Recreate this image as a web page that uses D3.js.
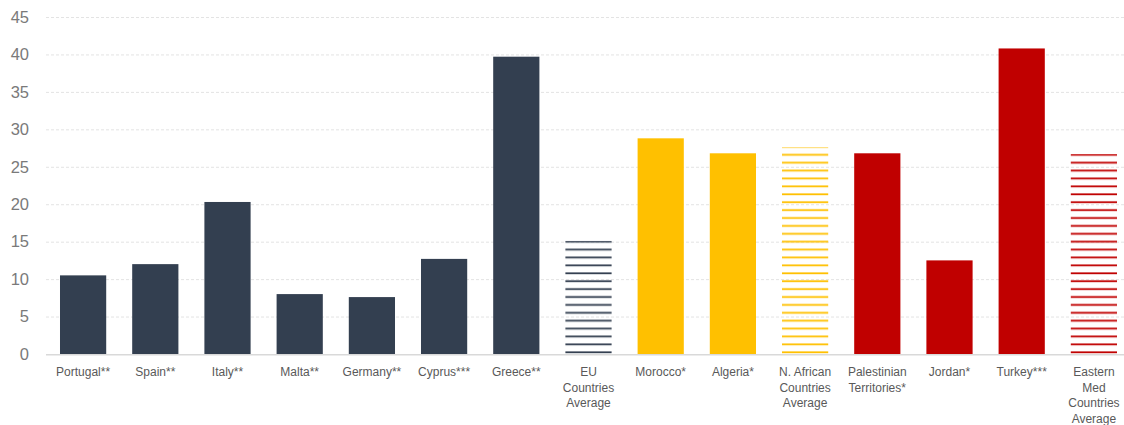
<!DOCTYPE html>
<html><head><meta charset="utf-8">
<script src="https://cdn.jsdelivr.net/npm/d3@7"></script>
<style>body{margin:0;background:#fff}svg{display:block;font-family:"Liberation Sans",Arial,sans-serif}</style>
</head><body><svg id="c" width="1124" height="425"></svg>
<script>
const categories = ["Portugal**","Spain**","Italy**","Malta**","Germany**","Cyprus***","Greece**","EU Countries Average","Morocco*","Algeria*","N. African Countries Average","Palestinian Territories*","Jordan*","Turkey***","Eastern Med Countries Average"];
const labelLines = [["Portugal**"],["Spain**"],["Italy**"],["Malta**"],["Germany**"],["Cyprus***"],["Greece**"],["EU","Countries","Average"],["Morocco*"],["Algeria*"],["N. African","Countries","Average"],["Palestinian","Territories*"],["Jordan*"],["Turkey***"],["Eastern","Med","Countries","Average"]];
const values = [10.5,12.0,20.3,8.0,7.6,12.7,39.7,15.1,28.8,26.8,27.6,26.8,12.5,40.8,26.7];
const groups = ["eu","eu","eu","eu","eu","eu","eu","eu","na","na","na","em","em","em","em"];
const isAverage = [false,false,false,false,false,false,false,true,false,false,true,false,false,false,true];
const yTicks = [0,5,10,15,20,25,30,35,40,45];

const colors = {eu:"#333f50", na:"#ffc000", em:"#c00000"};
const svg = d3.select("#c");
const x = d3.scaleBand().domain(categories).range([47,1130]).paddingInner(0.36).paddingOuter(0.18);
const y = d3.scaleLinear().domain([0,45]).range([354,17]);

const defs = svg.append("defs");
Object.entries(colors).forEach(([k,c])=>{
  const p = defs.append("pattern").attr("id","st-"+k).attr("patternUnits","userSpaceOnUse")
    .attr("x",0).attr("y",y(0)).attr("width",8).attr("height",7.9);
  p.append("rect").attr("x",0).attr("y",5.3).attr("width",8).attr("height",1.8).attr("fill",c);
});

// grid
svg.append("g").selectAll("line").data(yTicks.filter(d=>d>0)).join("line")
  .attr("x1",46).attr("x2",1124).attr("y1",d=>y(d)+0.5).attr("y2",d=>y(d)+0.5)
  .attr("stroke","#e3e3e3").attr("stroke-width",1).attr("stroke-dasharray","3,2");

// y labels
svg.append("g").selectAll("text").data(yTicks).join("text")
  .attr("x",29).attr("y",d=>y(d)).attr("dy","0.35em").attr("text-anchor","end")
  .attr("font-size",16.5).attr("fill","#7a7a7a").text(d=>d);

// bars
svg.append("g").selectAll("rect").data(categories).join("rect")
  .attr("x",d=>x(d)).attr("width",x.bandwidth())
  .attr("y",(d,i)=>y(values[i])).attr("height",(d,i)=>y(0)-y(values[i]))
  .attr("fill",(d,i)=>isAverage[i]?`url(#st-${groups[i]})`:colors[groups[i]]);

// axis line
svg.append("line").attr("x1",46).attr("x2",1124).attr("y1",y(0)+0.75).attr("y2",y(0)+0.75)
  .attr("stroke","#d9d9d9").attr("stroke-width",1.5);

// category labels
const lg = svg.append("g").selectAll("text").data(categories).join("text")
  .attr("x",d=>x(d)+x.bandwidth()/2).attr("y",376).attr("text-anchor","middle")
  .attr("font-size",12).attr("fill","#595959");
lg.each(function(d,i){
  const t = d3.select(this);
  labelLines[i].forEach((l,j)=>t.append("tspan").attr("x",x(d)+x.bandwidth()/2).attr("dy",j?15.5:0).text(l));
});
</script></body></html>
